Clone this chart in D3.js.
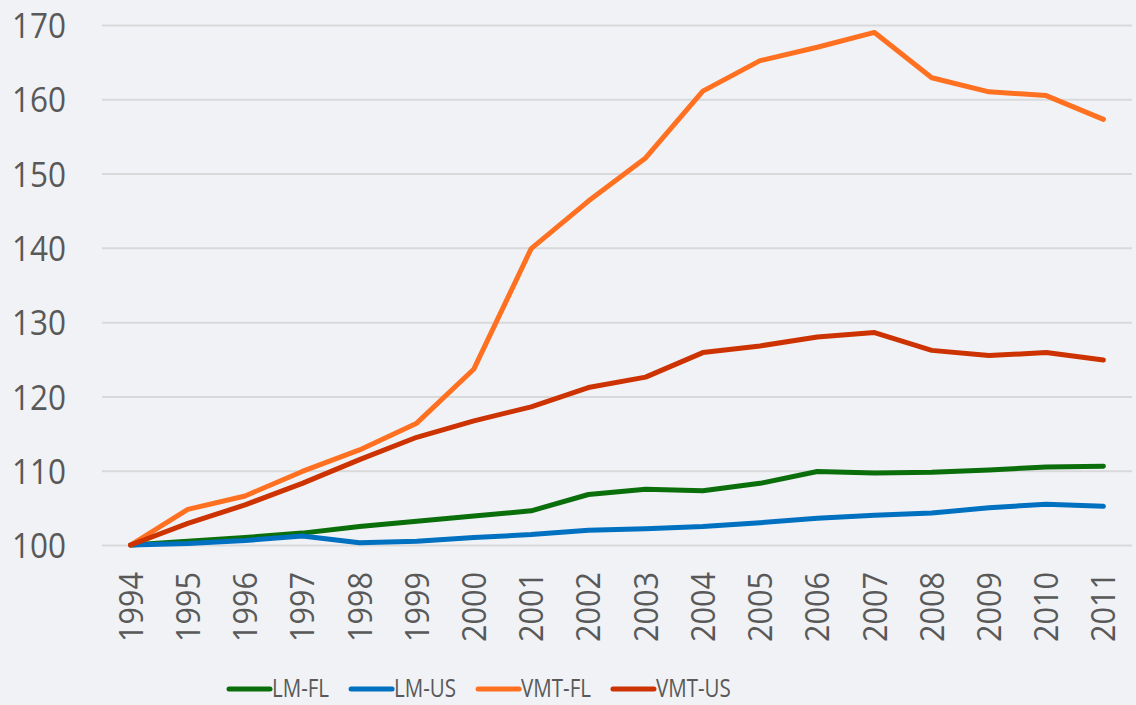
<!DOCTYPE html>
<html><head><meta charset="utf-8">
<script src="https://cdn.jsdelivr.net/npm/d3@7"></script>
<style>
html,body{margin:0;padding:0;background:#f0f2f6;}
svg{display:block;}
text{font-family:"Open Sans","Noto Sans",sans-serif;fill:#595959;}
</style></head>
<body>
<svg id="chart" width="1136" height="705"></svg>
<script>
const years = ["1994","1995","1996","1997","1998","1999","2000","2001","2002","2003","2004","2005","2006","2007","2008","2009","2010","2011"];
const lmFL  = [100,100.5,101.0,101.6,102.5,103.2,103.9,104.6,106.8,107.5,107.3,108.3,109.9,109.7,109.8,110.1,110.5,110.6];
const lmUS  = [100,100.2,100.6,101.2,100.3,100.5,101.0,101.4,102.0,102.2,102.5,103.0,103.6,104.0,104.3,105.0,105.5,105.2];
const vmtFL = [100,104.8,106.6,109.9,112.8,116.4,123.7,139.9,146.3,152.1,161.1,165.2,167.0,169.0,162.9,161.0,160.5,157.3];
const vmtUS = [100,102.9,105.4,108.3,111.5,114.5,116.7,118.6,121.2,122.6,125.9,126.8,128.0,128.6,126.2,125.5,125.9,124.9];
const yTicks = [100,110,120,130,140,150,160,170];
const seriesNames = ["LM-FL","LM-US","VMT-FL","VMT-US"];
const seriesColors = ["#0a6e0a","#0070c0","#ff7020","#cc3300"];
const seriesValues = [lmFL, lmUS, vmtFL, vmtUS];

const svg = d3.select("#chart");
const plotL = 102, plotR = 1132, plotT = 25, plotB = 545;

const x = d3.scalePoint().domain(years).range([plotL, plotR]).padding(0.5);
const y = d3.scaleLinear().domain([100,170]).range([plotB, plotT]);

// gridlines + y labels
const yAxis = d3.axisLeft(y).tickValues(yTicks).tickSize(-(plotR-plotL)).tickPadding(36).tickFormat(d3.format("d"));
const gy = svg.append("g").attr("transform",`translate(${plotL},0)`).call(yAxis);
gy.select(".domain").remove();
gy.selectAll(".tick line").attr("stroke","#d9d9d9").attr("stroke-width",2);
gy.selectAll(".tick text").attr("font-size",35).attr("fill","#595959")
  .attr("dy","0.36em").attr("textLength",54).attr("lengthAdjust","spacingAndGlyphs");

// x axis
const xAxis = d3.axisBottom(x).tickSize(0).tickPadding(0);
const gx = svg.append("g").attr("transform",`translate(0,${plotB})`).call(xAxis);
gx.select(".domain").remove();
gx.selectAll(".tick text")
  .attr("font-size",32).attr("fill","#595959")
  .attr("text-anchor","end")
  .attr("transform","rotate(-90)")
  .attr("x",-27).attr("y",0).attr("dy","0.36em")
  .attr("textLength",70).attr("lengthAdjust","spacingAndGlyphs");

// lines
const line = d3.line().x((d,i)=>x(years[i])).y(d=>y(d));
seriesValues.forEach((vals,k)=>{
  svg.append("path").datum(vals)
    .attr("fill","none").attr("stroke",seriesColors[k])
    .attr("stroke-width",5).attr("stroke-linejoin","round").attr("stroke-linecap","round")
    .attr("d",line);
});

// legend
const lg = svg.append("g").attr("class","legend");
const ly = 689, baseline = 697, swatch = 41, swGap = 2, itemGap = 22, squeeze = 0.79;
let cx = 229;
seriesNames.forEach((name,k)=>{
  lg.append("line").attr("x1",cx).attr("x2",cx+swatch).attr("y1",ly).attr("y2",ly)
    .attr("stroke",seriesColors[k]).attr("stroke-width",5).attr("stroke-linecap","round");
  const tg = lg.append("g").attr("transform",`translate(${cx+swatch+swGap},${baseline}) scale(${squeeze},1)`);
  const t = tg.append("text").attr("x",0).attr("y",0).attr("font-size",26).text(name);
  const w = t.node().getComputedTextLength()*squeeze;
  cx += swatch + swGap + w + itemGap;
});
</script>
</body></html>
